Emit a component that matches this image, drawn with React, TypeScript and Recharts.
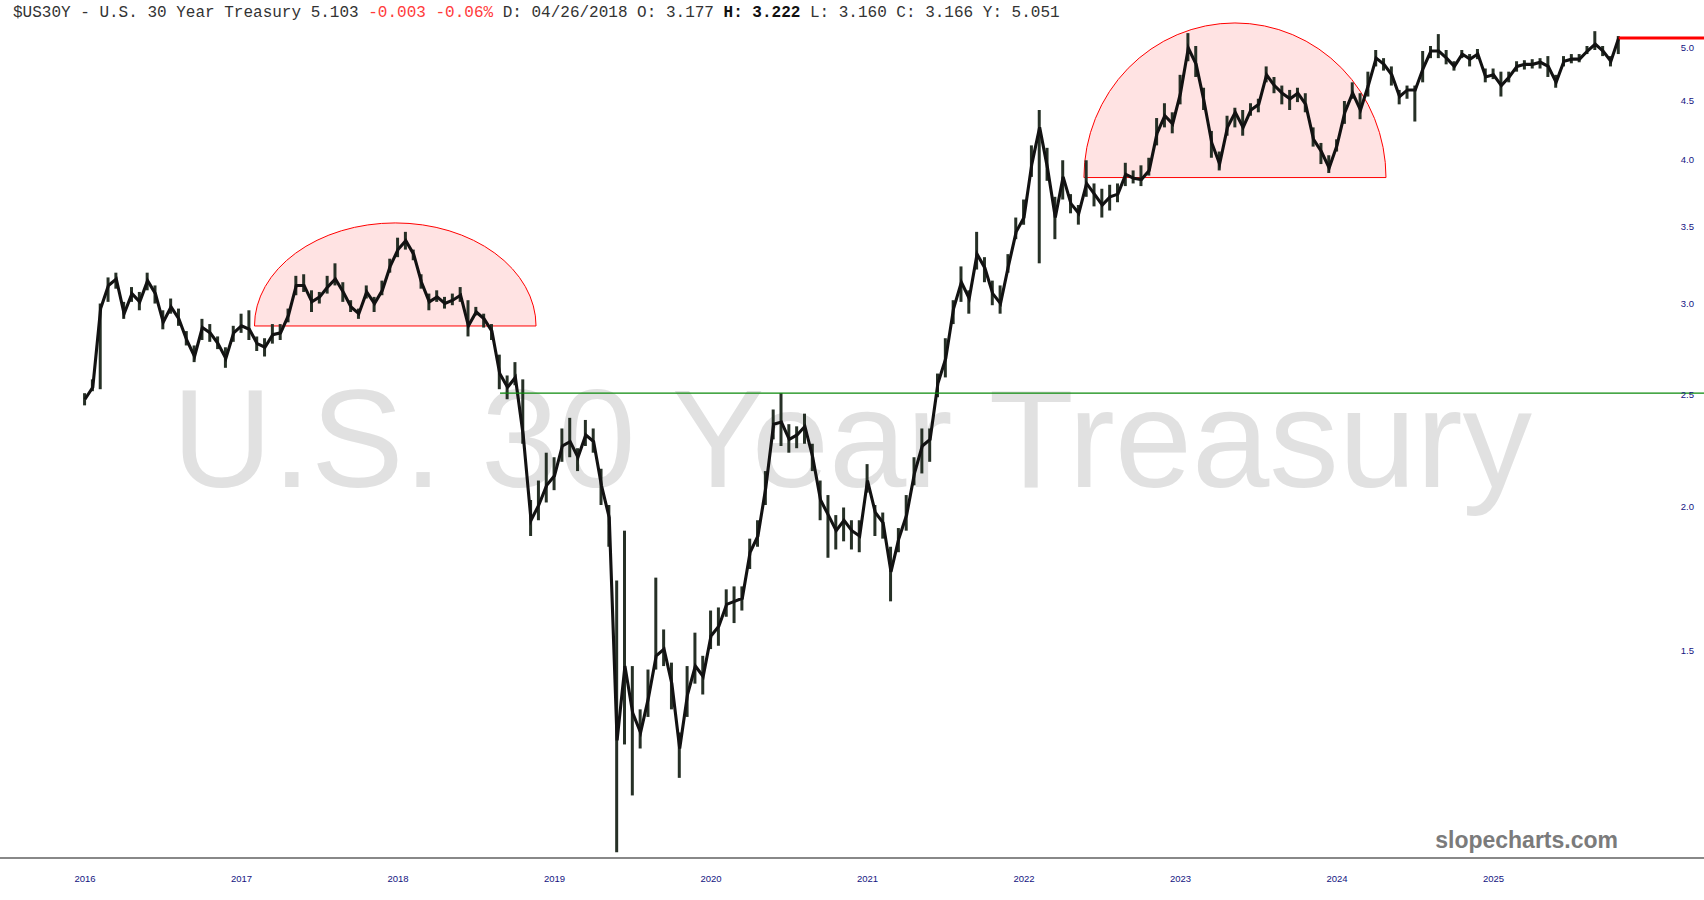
import React from 'react';
import { ComposedChart, Line, Bar, XAxis, YAxis, ReferenceArea, ReferenceLine } from 'recharts';

const W = 1704;
const H = 900;

// time grid: one point every 0.05 year starting at the "2016" tick
const START = 2016;
const STEP = 0.05;

const closes = [
  2.47, 2.53, 2.96, 3.10, 3.14, 2.93, 3.05, 3.00, 3.13, 3.05, 2.88, 2.97, 2.90, 2.78, 2.69, 2.85, 2.82, 2.76, 2.68, 2.82,
  2.86, 2.84, 2.76, 2.74, 2.81, 2.82, 2.92, 3.10, 3.10, 3.00, 3.03, 3.09, 3.14, 3.06, 2.97, 2.93, 3.06, 2.99, 3.07, 3.22,
  3.33, 3.39, 3.30, 3.12, 3.00, 3.03, 2.99, 3.01, 3.04, 2.86, 2.94, 2.90, 2.83, 2.60, 2.53, 2.58, 2.30, 1.94, 2.00, 2.08,
  2.12, 2.25, 2.27, 2.20, 2.30, 2.27, 2.08, 1.95, 1.25, 1.45, 1.32, 1.27, 1.36, 1.48, 1.50, 1.40, 1.23, 1.37, 1.45, 1.42,
  1.54, 1.57, 1.64, 1.65, 1.66, 1.82, 1.88, 2.07, 2.35, 2.36, 2.28, 2.30, 2.34, 2.20, 2.02, 1.96, 1.90, 1.94, 1.90, 1.88,
  2.10, 1.97, 1.93, 1.75, 1.87, 1.96, 2.13, 2.25, 2.28, 2.55, 2.68, 2.96, 3.12, 3.02, 3.30, 3.21, 3.05, 2.99, 3.22, 3.45,
  3.55, 3.95, 4.25, 3.92, 3.55, 3.85, 3.65, 3.58, 3.80, 3.72, 3.64, 3.70, 3.72, 3.87, 3.84, 3.83, 3.90, 4.20, 4.35, 4.28,
  4.55, 4.98, 4.82, 4.48, 4.12, 3.95, 4.25, 4.38, 4.25, 4.40, 4.45, 4.72, 4.62, 4.55, 4.50, 4.55, 4.45, 4.15, 4.05, 3.92,
  4.10, 4.38, 4.55, 4.40, 4.62, 4.88, 4.82, 4.72, 4.52, 4.58, 4.58, 4.78, 4.95, 4.95, 4.88, 4.80, 4.92, 4.87, 4.92, 4.70,
  4.72, 4.62, 4.70, 4.80, 4.82, 4.82, 4.84, 4.80, 4.65, 4.85, 4.87, 4.87, 4.95, 5.02, 4.95, 4.85, 5.08,
];

const highs = [
  2.50, 2.57, 2.99, 3.15, 3.18, 3.00, 3.09, 3.06, 3.18, 3.10, 2.95, 3.02, 2.96, 2.83, 2.75, 2.90, 2.87, 2.80, 2.74, 2.86,
  2.93, 2.95, 2.80, 2.79, 2.87, 2.87, 2.96, 3.16, 3.17, 3.07, 3.06, 3.16, 3.24, 3.12, 3.01, 2.96, 3.10, 3.03, 3.13, 3.27,
  3.41, 3.45, 3.33, 3.17, 3.05, 3.07, 3.03, 3.05, 3.09, 3.01, 2.97, 2.93, 2.87, 2.70, 2.59, 2.66, 2.57, 2.02, 2.10, 2.22,
  2.20, 2.33, 2.38, 2.24, 2.37, 2.33, 2.15, 2.00, 1.72, 1.90, 1.45, 1.33, 1.44, 1.73, 1.56, 1.46, 1.27, 1.45, 1.55, 1.48,
  1.62, 1.63, 1.69, 1.70, 1.70, 1.87, 1.94, 2.14, 2.42, 2.50, 2.35, 2.34, 2.40, 2.26, 2.10, 2.04, 1.96, 1.99, 1.94, 1.94,
  2.17, 2.00, 1.97, 1.84, 1.91, 2.04, 2.20, 2.33, 2.33, 2.60, 2.79, 3.01, 3.22, 3.07, 3.45, 3.28, 3.13, 3.10, 3.30, 3.55,
  3.68, 4.10, 4.40, 4.08, 3.70, 3.98, 3.72, 3.64, 3.98, 3.80, 3.76, 3.79, 3.80, 3.96, 3.90, 3.94, 4.00, 4.33, 4.46, 4.38,
  4.72, 5.13, 5.00, 4.60, 4.22, 4.05, 4.35, 4.42, 4.40, 4.46, 4.50, 4.80, 4.70, 4.62, 4.58, 4.60, 4.55, 4.25, 4.12, 4.02,
  4.15, 4.48, 4.65, 4.55, 4.75, 4.96, 4.88, 4.80, 4.58, 4.62, 4.62, 4.95, 5.00, 5.12, 4.96, 4.85, 4.96, 4.92, 4.97, 4.78,
  4.78, 4.75, 4.75, 4.85, 4.86, 4.87, 4.88, 4.90, 4.72, 4.90, 4.92, 4.92, 5.00, 5.15, 5.00, 4.90, 5.10,
];

const lows = [
  2.44, 2.51, 2.52, 3.00, 3.08, 2.90, 3.00, 2.95, 3.07, 2.99, 2.84, 2.93, 2.86, 2.75, 2.66, 2.78, 2.77, 2.73, 2.63, 2.77,
  2.82, 2.78, 2.72, 2.69, 2.76, 2.78, 2.88, 3.04, 3.06, 2.94, 2.99, 3.05, 3.10, 3.00, 2.94, 2.90, 3.02, 2.94, 3.04, 3.18,
  3.28, 3.33, 3.26, 3.08, 2.95, 3.00, 2.96, 2.98, 3.00, 2.80, 2.92, 2.85, 2.78, 2.52, 2.47, 2.54, 2.26, 1.88, 1.94, 2.01,
  2.06, 2.18, 2.20, 2.14, 2.25, 2.22, 2.00, 1.84, 1.00, 1.24, 1.12, 1.23, 1.31, 1.44, 1.45, 1.33, 1.16, 1.31, 1.40, 1.37,
  1.50, 1.51, 1.60, 1.58, 1.62, 1.76, 1.84, 2.00, 2.28, 2.25, 2.22, 2.24, 2.26, 2.14, 1.94, 1.80, 1.83, 1.86, 1.83, 1.82,
  2.05, 1.88, 1.87, 1.65, 1.82, 1.90, 2.08, 2.13, 2.18, 2.48, 2.58, 2.87, 3.00, 2.93, 3.20, 3.12, 2.98, 2.93, 3.18, 3.40,
  3.50, 3.85, 3.24, 3.82, 3.40, 3.68, 3.58, 3.50, 3.70, 3.63, 3.55, 3.60, 3.66, 3.78, 3.80, 3.78, 3.86, 4.10, 4.25, 4.20,
  4.45, 4.85, 4.70, 4.40, 4.00, 3.90, 4.18, 4.25, 4.18, 4.35, 4.38, 4.65, 4.55, 4.45, 4.40, 4.47, 4.38, 4.09, 3.95, 3.88,
  4.05, 4.28, 4.50, 4.32, 4.52, 4.80, 4.76, 4.62, 4.45, 4.50, 4.30, 4.65, 4.88, 4.88, 4.82, 4.76, 4.88, 4.80, 4.87, 4.65,
  4.68, 4.52, 4.65, 4.75, 4.77, 4.78, 4.78, 4.70, 4.60, 4.80, 4.83, 4.84, 4.92, 4.96, 4.90, 4.80, 4.92,
];

const yearTicks = [2016, 2017, 2018, 2019, 2020, 2021, 2022, 2023, 2024, 2025];
const priceTicks = [1.5, 2.0, 2.5, 3.0, 3.5, 4.0, 4.5, 5.0];
const timeDomain = [2015.457, 2026.345];
const priceDomain = [0.9885, 5.162];

const domes = [
  { t1: 2017.083, t2: 2018.882, base: 2.859, top: 3.512 },
  { t1: 2022.383, t2: 2024.313, base: 3.845, top: 5.235 },
];
const supportLevel = 2.5;
const supportFrom = 2018.652;

const data = closes.map((c, i) => ({
  t: +(START + i * STEP).toFixed(3),
  close: c,
  range: [lows[i], highs[i]],
}));
const lastPoint = data[data.length - 1];

const AXIS_FONT = "'Liberation Sans', Arial, sans-serif";
const AXIS_COLOR = '#14147f';

const Dome = (props: any) => {
  const { x, y, width, height } = props;
  if (x == null || y == null || !width || !height) return null;
  const by = y + height;
  return (
    <path
      d={`M${x},${by} A${width / 2},${height} 0 0 1 ${x + width},${by} Z`}
      fill="#ff0000"
      fillOpacity={0.11}
      stroke="#ff0000"
      strokeWidth={1}
    />
  );
};

const XTick = (props: any) => {
  const { x, y, payload } = props;
  return (
    <text x={x} y={y + 24} textAnchor="middle" fontSize={9.5} fill={AXIS_COLOR} fontFamily={AXIS_FONT}>
      {payload.value}
    </text>
  );
};

const PriceLabel = (props: any) => {
  const { viewBox, value } = props;
  if (!viewBox) return null;
  return (
    <text
      x={viewBox.x + viewBox.width - 10}
      y={viewBox.y + 5}
      textAnchor="end"
      fontSize={9.5}
      fill={AXIS_COLOR}
      fontFamily={AXIS_FONT}
    >
      {Number(value).toFixed(1)}
    </text>
  );
};

export default function App() {
  return (
    <div style={{ position: 'absolute', left: 0, top: 0, width: W, height: H, background: '#fff', overflow: 'hidden' }}>
      <svg width={W} height={H} style={{ position: 'absolute', left: 0, top: 0 }}>
        <text
          x={852}
          y={487}
          textAnchor="middle"
          fontSize={139}
          fill="#e1e1e1"
          fontFamily="'Liberation Sans', Arial, sans-serif"
        >
          U.S. 30 Year Treasury
        </text>
        <text
          x={13}
          y={17}
          fontSize={16}
          fill="#333"
          fontFamily="'Liberation Mono', 'Courier New', monospace"
          style={{ whiteSpace: 'pre' }}
        >
          <tspan>$US30Y - U.S. 30 Year Treasury 5.103 </tspan>
          <tspan fill="#ff3b3b">-0.003 -0.06%</tspan>
          <tspan> D: 04/26/2018 O: 3.177 </tspan>
          <tspan fontWeight="bold" fill="#111">H: 3.222</tspan>
          <tspan> L: 3.160 C: 3.166 Y: 5.051</tspan>
        </text>
        <text
          x={1618}
          y={848}
          textAnchor="end"
          fontSize={23}
          fontWeight="bold"
          fill="#7b7b7b"
          fontFamily="'Liberation Sans', Arial, sans-serif"
        >
          slopecharts.com
        </text>
      </svg>
      <div style={{ position: 'absolute', left: 0, top: 0 }}>
        <ComposedChart width={W} height={H} data={data} margin={{ top: 30, right: 0, bottom: 0, left: 0 }}>
          <XAxis
            type="number"
            dataKey="t"
            domain={timeDomain}
            allowDataOverflow
            ticks={yearTicks}
            interval={0}
            tick={XTick}
            tickLine={false}
            tickSize={0}
            tickMargin={0}
            axisLine={{ stroke: '#888', strokeWidth: 2 }}
            height={42}
          />
          <YAxis hide scale="log" domain={priceDomain} allowDataOverflow />
          <Bar dataKey="range" fill="#263026" barSize={3} isAnimationActive={false} />
          <Line
            type="linear"
            dataKey="close"
            stroke="#121212"
            strokeWidth={3.1}
            dot={false}
            isAnimationActive={false}
          />
          {domes.map((d, i) => (
            <ReferenceArea
              key={`dome-${i}`}
              x1={d.t1}
              x2={d.t2}
              y1={d.base}
              y2={d.top}
              ifOverflow="hidden"
              shape={<Dome />}
            />
          ))}
          <ReferenceLine
            segment={[
              { x: supportFrom, y: supportLevel },
              { x: timeDomain[1], y: supportLevel },
            ]}
            stroke="#0b8a0b"
            strokeWidth={1.2}
            ifOverflow="hidden"
          />
          <ReferenceLine
            segment={[
              { x: lastPoint.t, y: lastPoint.close },
              { x: timeDomain[1], y: lastPoint.close },
            ]}
            stroke="#ff0000"
            strokeWidth={3}
            ifOverflow="hidden"
          />
          {priceTicks.map((p) => (
            <ReferenceLine
              key={`pt-${p}`}
              y={p}
              stroke="none"
              label={<PriceLabel value={p} />}
            />
          ))}
        </ComposedChart>
      </div>
    </div>
  );
}
